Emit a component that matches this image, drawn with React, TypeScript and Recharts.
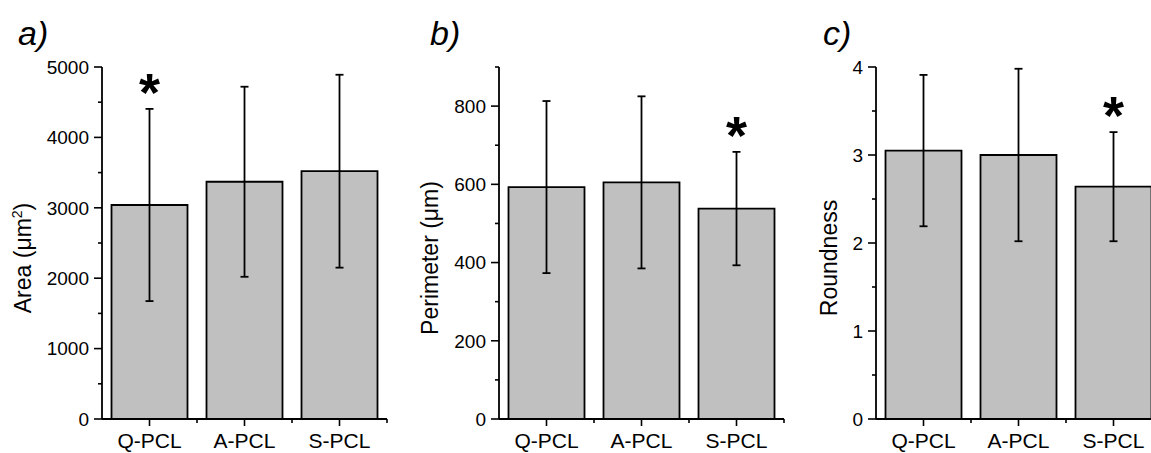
import React from 'react';
import { BarChart, Bar, XAxis, YAxis, ErrorBar, ReferenceDot } from 'recharts';

const groups = ['Q-PCL', 'A-PCL', 'S-PCL'];

const areaMean = [3040, 3370, 3520];
const areaErr = [1365, 1350, 1370];
const perimeterMean = [593, 605, 538];
const perimeterErr = [220, 220, 145];
const roundnessMean = [3.05, 3.0, 2.64];
const roundnessErr = [0.86, 0.98, 0.62];

const areaTicks = [0, 500, 1000, 1500, 2000, 2500, 3000, 3500, 4000, 4500, 5000];
const perimeterTicks = [0, 100, 200, 300, 400, 500, 600, 700, 800, 900];
const roundnessTicks = [0, 0.5, 1, 1.5, 2, 2.5, 3, 3.5, 4];

const FONT = '"Liberation Sans", Arial, sans-serif';
const HALF_BAND = 47.5;

const makeYTick = (major: number) => (props: any) => {
  const { x, y, payload } = props;
  const isMajor = Math.abs(payload.value / major - Math.round(payload.value / major)) < 1e-6;
  return (
    <g>
      <line x1={x} x2={x - (isMajor ? 8 : 4)} y1={y} y2={y} stroke="#000" strokeWidth={1.6} />
      {isMajor && (
        <text x={x - 13} y={y} dy="0.36em" textAnchor="end" fontSize={19} fontFamily={FONT} fill="#000">
          {payload.value}
        </text>
      )}
    </g>
  );
};

const XTick = (props: any) => {
  const { x, y, payload } = props;
  return (
    <g>
      <line x1={x} x2={x} y1={y} y2={y + 7} stroke="#000" strokeWidth={1.6} />
      <line x1={x + HALF_BAND} x2={x + HALF_BAND} y1={y} y2={y + 4} stroke="#000" strokeWidth={1.6} />
      <text x={x} y={y + 29} textAnchor="middle" fontSize={21} fontFamily={FONT} fill="#000">
        {payload.value}
      </text>
    </g>
  );
};

type PanelProps = {
  left: number;
  letter: string;
  letterX: number;
  labelX: number;
  label: React.ReactNode;
  means: number[];
  errs: number[];
  ticks: number[];
  major: number;
  star: string;
};

const Panel = ({ left, letter, letterX, labelX, label, means, errs, ticks, major, star }: PanelProps) => {
  const data = groups.map((g, i) => ({ name: g, mean: means[i], err: errs[i] }));
  const si = groups.indexOf(star);
  return (
    <div style={{ position: 'absolute', left, top: 0 }}>
      <svg width={120} height={60} style={{ position: 'absolute', left: 0, top: 0 }}>
        <text x={letterX} y={45} fontSize={34} fontStyle="italic" fontFamily={FONT} fill="#000">
          {letter}
        </text>
      </svg>
      <BarChart
        width={400}
        height={453}
        data={data}
        margin={{ top: 67, right: 13, bottom: 0, left: 0 }}
        barCategoryGap="10%"
      >
        <XAxis
          dataKey="name"
          height={34}
          tickSize={0}
          tickMargin={0}
          tick={XTick}
          interval={0}
          axisLine={{ stroke: '#000', strokeWidth: 1.8 }}
          tickLine={false}
        />
        <YAxis
          width={102}
          domain={[ticks[0], ticks[ticks.length - 1]]}
          ticks={ticks}
          interval={0}
          tickSize={0}
          tickMargin={0}
          tick={makeYTick(major)}
          tickLine={false}
          axisLine={{ stroke: '#000', strokeWidth: 1.8 }}
          label={{
            content: () => (
              <text
                x={labelX}
                y={258}
                transform={`rotate(-90 ${labelX} 258)`}
                textAnchor="middle"
                fontSize={23}
                fontFamily={FONT}
                fill="#000"
              >
                {label}
              </text>
            ),
          }}
        />
        <Bar dataKey="mean" fill="#c0c0c0" stroke="#000" strokeWidth={1.8} isAnimationActive={false}>
          <ErrorBar dataKey="err" width={4} stroke="#000" strokeWidth={1.8} isAnimationActive={false} />
        </Bar>
        <ReferenceDot
          x={star}
          y={means[si] + errs[si]}
          r={0}
          shape={(p: any) => (
            <text x={p.cx} y={p.cy + 2} textAnchor="middle" fontSize={54} fontWeight="bold" fontFamily={FONT} fill="#000">
              *
            </text>
          )}
        />
      </BarChart>
    </div>
  );
};

export default function App() {
  return (
    <div
      style={{
        position: 'absolute',
        left: 0,
        top: 0,
        width: 1151,
        height: 453,
        overflow: 'hidden',
        background: '#fff',
      }}
    >
      <Panel
        left={0}
        letter="a)"
        letterX={18}
        labelX={31}
        label={
          <>
            Area (μm
            <tspan dy={-9} fontSize={14}>2</tspan>
            <tspan dy={9}>)</tspan>
          </>
        }
        means={areaMean}
        errs={areaErr}
        ticks={areaTicks}
        major={1000}
        star="Q-PCL"
      />
      <Panel
        left={397}
        letter="b)"
        letterX={33}
        labelX={41}
        label="Perimeter (μm)"
        means={perimeterMean}
        errs={perimeterErr}
        ticks={perimeterTicks}
        major={200}
        star="S-PCL"
      />
      <Panel
        left={774}
        letter="c)"
        letterX={49}
        labelX={63}
        label="Roundness"
        means={roundnessMean}
        errs={roundnessErr}
        ticks={roundnessTicks}
        major={1}
        star="S-PCL"
      />
    </div>
  );
}
